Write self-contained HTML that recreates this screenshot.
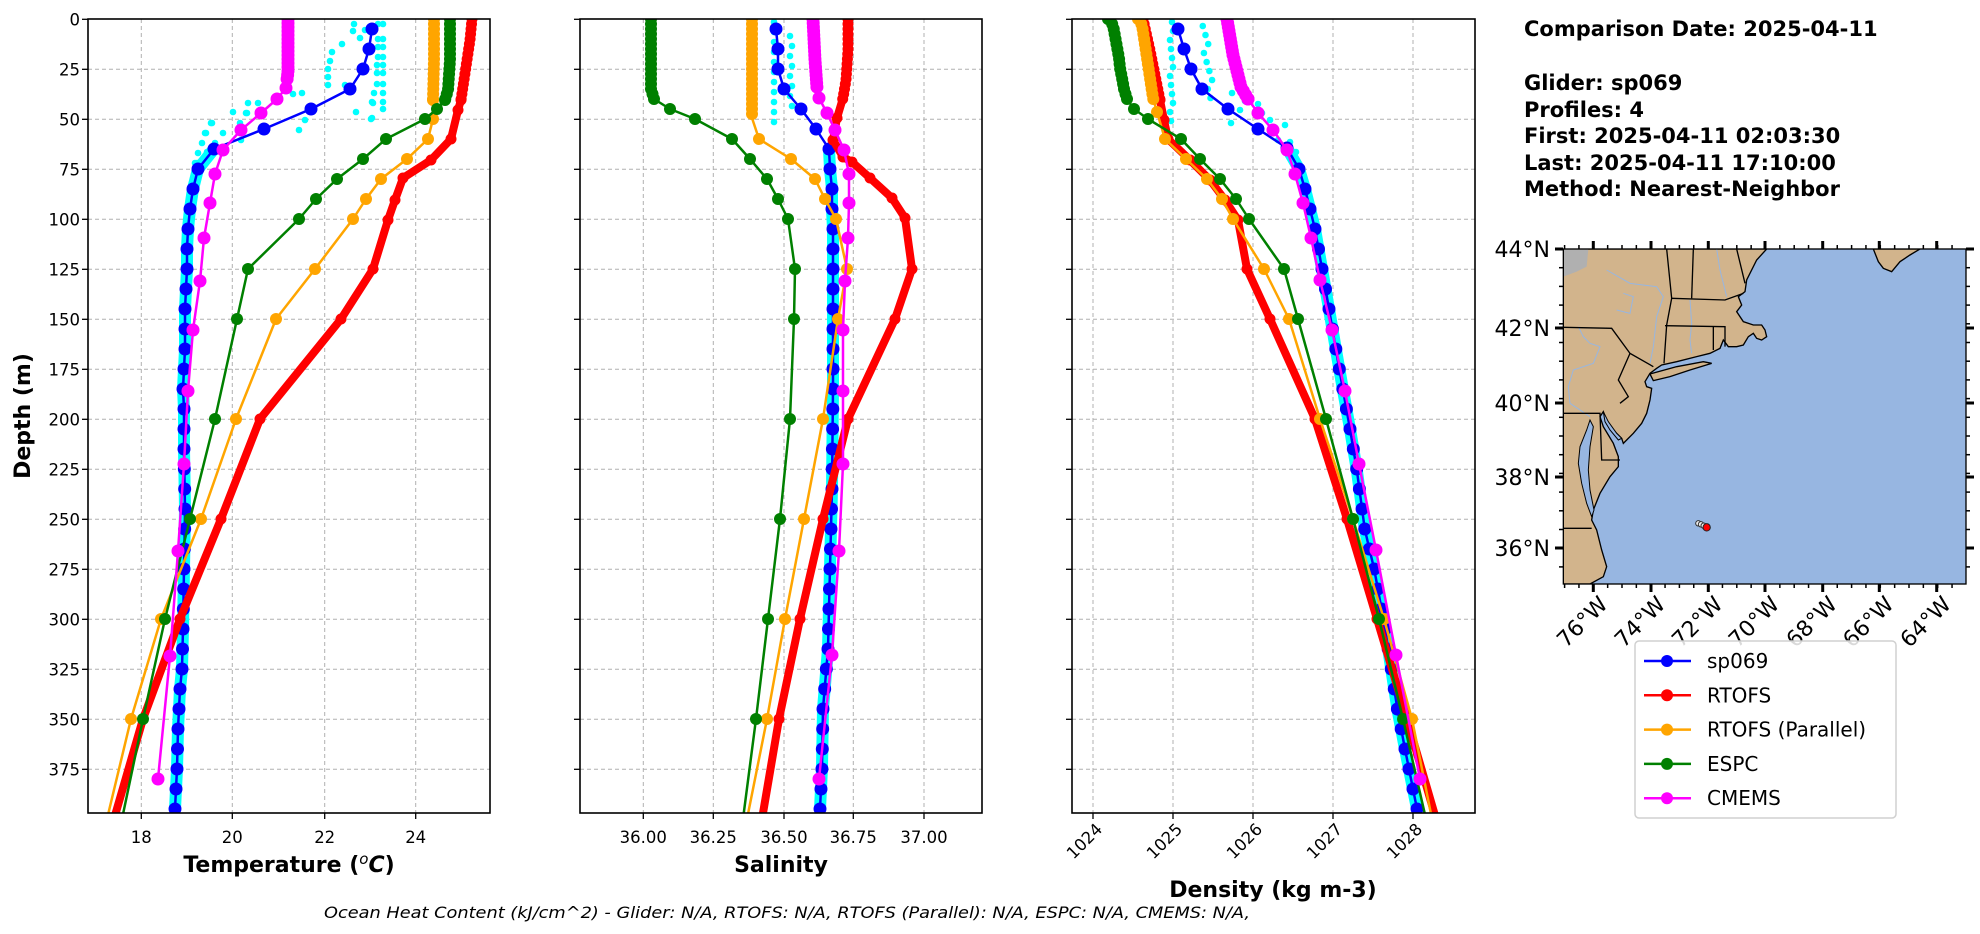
<!DOCTYPE html>
<html><head><meta charset="utf-8"><style>
html,body{margin:0;padding:0;background:#fff;}
svg{display:block;font-family:"DejaVu Sans","Liberation Sans",sans-serif;}
</style></head><body>
<svg id="s" xmlns="http://www.w3.org/2000/svg" width="1980" height="934" viewBox="0 0 1980 934">
<defs>
<clipPath id="c1"><rect x="88" y="19" width="402" height="794"/></clipPath>
<clipPath id="c2"><rect x="580" y="19" width="402" height="794"/></clipPath>
<clipPath id="c3"><rect x="1072" y="19" width="403" height="794"/></clipPath>
<clipPath id="cm"><rect x="220" y="57" width="1208" height="1005"/></clipPath>
</defs>
<g id="g"></g>
<g transform="translate(1490,230) scale(0.33333)">
<g clip-path="url(#cm)">
<rect x="220" y="57" width="1208" height="1005" fill="#97b6e1"/>
<path d="M220,57 L830,57 L800,90 L770,150 L765,185 L745,200 L755,225 L740,245 L760,275 L790,285 L815,285 L825,300 L830,320 L815,330 L800,325 L790,310 L775,320 L760,345 L740,350 L715,350 L700,330 L690,355 L660,370 L620,380 L560,395 L515,405 L500,415 L480,430 L465,455 L470,470 L485,475 L480,510 L470,550 L455,580 L430,610 L410,630 L400,640 L395,625 L375,605 L355,580 L345,560 L340,545 L330,560 L340,590 L370,640 L385,680 L385,710 L360,740 L330,790 L310,840 L305,870 L320,900 L335,960 L350,1010 L340,1040 L300,1062 L220,1062 Z" fill="#d2b48c" stroke="#000" stroke-width="4"/>
<path d="M480,432 L560,410 L640,395 L665,400 L600,420 L540,440 L490,452 Z" fill="#d2b48c" stroke="#000" stroke-width="4"/>
<path d="M300,570 L290,600 L270,650 L265,700 L275,760 L290,820 L305,860 L312,840 L300,780 L295,720 L300,650 L310,590 Z" fill="#97b6e1" stroke="#000" stroke-width="3"/>
<path d="M340,545 L355,575 L380,610 L395,625 L385,630 L360,600 L345,575 Z" fill="#97b6e1" stroke="#000" stroke-width="3"/>
<path d="M1150,57 L1290,57 L1260,75 L1230,95 L1205,125 L1180,115 L1165,95 Z" fill="#d2b48c" stroke="#000" stroke-width="4"/>
<path d="M220,57 L295,57 L290,110 L260,125 L220,140 Z" fill="#b0b0b0"/>
<g fill="none" stroke="#97b6e1" stroke-width="3">
<polyline points="350,120 420,160 500,170 520,200 500,260 490,350 480,400"/>
<polyline points="600,210 605,280 600,330 605,370"/>
<polyline points="680,57 690,120 710,200"/>
<polyline points="265,290 280,320 300,340 330,350 310,400 250,420 235,470 240,520 300,560"/>
<polyline points="380,240 420,250 430,200 400,190"/>
</g>
<g fill="none" stroke="#000" stroke-width="4">
<polyline points="530,57 545,205 530,285 522,400"/>
<polyline points="545,205 705,210 760,190"/>
<polyline points="525,287 705,290 705,350"/>
<polyline points="670,290 670,360"/>
<polyline points="220,292 365,295 420,370 490,410"/>
<polyline points="420,370 385,450 415,500 390,520"/>
<polyline points="220,550 330,550 335,690 390,690"/>
<polyline points="220,895 305,895"/>
<polyline points="610,57 605,205"/>
<polyline points="740,57 765,160"/>
</g>
<circle cx="625" cy="880" r="8" fill="#eee" stroke="#333" stroke-width="3"/>
<circle cx="633" cy="883" r="8" fill="#eee" stroke="#333" stroke-width="3"/>
<circle cx="641" cy="887" r="8" fill="#eee" stroke="#333" stroke-width="3"/>
<circle cx="650" cy="892" r="11" fill="#ff0000" stroke="#222" stroke-width="3"/>
</g>
<rect x="220" y="57" width="1208" height="1005" fill="none" stroke="#000" stroke-width="4"/>
</g>
<g id="g2"></g>
</svg>
<script>
var out=[];
function P(a){return a.map(function(p){return p[0]+','+p[1]}).join(' ');}
function line(a,c,w,clip){out.push('<polyline clip-path="url(#'+clip+')" points="'+P(a)+'" fill="none" stroke="'+c+'" stroke-width="'+w+'" stroke-linejoin="round" stroke-linecap="round"/>');}
function dots(a,c,r,clip){var s='<g clip-path="url(#'+clip+')" fill="'+c+'">';a.forEach(function(p){s+='<circle cx="'+p[0]+'" cy="'+p[1]+'" r="'+r+'"/>';});out.push(s+'</g>');}
function ix(a,y){for(var i=0;i<a.length-1;i++){if(y>=a[i][1]&&y<=a[i+1][1]){var t=(y-a[i][1])/((a[i+1][1]-a[i][1])||1);return a[i][0]+t*(a[i+1][0]-a[i][0]);}}return a[a.length-1][0];}
function dense(a,y0,y1,st){var r=[];for(var y=y0;y<=y1;y+=st)r.push([ix(a,y),y]);return r;}
function model(a,c,w,r,clip,ymax){line(a,c,w,clip);var m=dense(a,19,ymax||99,5).concat(a.filter(function(p){return p[1]>(ymax||99)}));dots(m,c,r,clip);}
function blue(top,anch,clip){var pts=top.slice();var last=top[top.length-1][1];var a=[top[top.length-1]].concat(anch);for(var y=last+20;y<=815;y+=20)pts.push([ix(a,y),y]);
 var band=pts.filter(function(p){return p[1]>=130});line(band,'#00ffff',12,clip);line(pts,'#0000ff',2.5,clip);dots(pts,'#0000ff',6.5,clip);}
function grid(x0,x1,xs){var s='<g stroke="#b0b0b0" stroke-width="1" stroke-dasharray="4,3">';xs.forEach(function(x){s+='<line x1="'+x+'" y1="19" x2="'+x+'" y2="813"/>';});for(var k=1;k<16;k++){var y=19.3+50*k;s+='<line x1="'+x0+'" y1="'+y+'" x2="'+x1+'" y2="'+y+'"/>';}out.push(s+'</g>');}
grid(88,490,[141.3,232.3,324.7,415.7]);grid(580,982,[643.3,713.3,784,853.3,924]);grid(1072,1475,[1093,1173,1253,1333,1413]);
var cT=[[354,24],[353,31],[342,44],[332,52],[330,61],[328,69],[328,77],[328,85],[345,85],[356,112],[378,24],[383,24],[378,39],[383,39],[378,47],[383,47],[378,57],[383,57],[377,65],[383,65],[377,73],[383,73],[377,84],[383,84],[374,93],[383,93],[372,102],[383,102],[372,118],[302,93],[293,94],[305,120],[299,130],[258,103],[248,103],[247,113],[233,112],[240,123],[241,140],[223,133],[212,123],[206,133],[202,143],[215,143],[198,153],[207,152],[197,163],[246,113],[211,123],[205,133],[195,163],[373,103],[383,109],[371,119],[365,30],[360,38]];
dots(cT,'#00ffff',3.3,'c1');
var cS=[];for(var y=22;y<=122;y+=10){cS.push([772+(y%5),y]);if(y>30&&y<110)cS.push([790+(y%4),y+4]);}
dots(cS,'#00ffff',3.3,'c2');
var cD=[];for(var y=22;y<=122;y+=9){cD.push([1170+(y%4),y]);if(y<100)cD.push([1200+(y%7)+y*0.08,y+4]);}
[[1232,93],[1245,101],[1258,104],[1262,113],[1270,120],[1285,125],[1278,140],[1290,142],[1296,152],[1240,110],[1231,123]].forEach(function(p){cD.push(p)});
dots(cD,'#00ffff',3.3,'c3');
blue([[372,29],[369,49],[363,69],[350,89],[311,109],[264,129],[214,149],[198,169],[193,189],[190,209],[188,229],[187,249],[187,269],[186,289],[185,309],[185,329],[185,349],[184,369],[183,389],[184,409],[184,429],[184,449]],[[185,509],[184,569],[183,629],[182,669],[180,689],[179,709],[178,729],[177,769],[175,809]],'c1');
model([[472,19],[470,40],[467,60],[464,80],[461,100],[458,110],[451,139],[431,160],[403,178],[395,200],[388,220],[373,269],[341,319],[260,419],[221,519],[180,619],[143,719],[114,819]],'#ff0000',8,5.5,'c1');
model([[434,19],[434,60],[433,100],[433,119],[428,139],[407,159],[381,179],[366,199],[353,219],[315,269],[276,319],[236,419],[201,519],[161,619],[131,719],[107,819]],'#ffa500',2.5,6,'c1');
model([[450,19],[450,60],[448,90],[445,100],[437,109],[425,119],[386,139],[363,159],[337,179],[316,199],[299,219],[248,269],[237,319],[215,419],[190,519],[165,619],[143,719],[122,819]],'#008000',2.5,6,'c1');
(function(){var a=[[288,19],[288,72],[286,88],[277,99],[261,113],[241,130],[223,150],[215,174],[210,203],[204,238],[200,281],[193,330],[188,391],[184,464],[178,551],[170,656],[158,779]];line(a,'#ff00ff',2.5,'c1');dots(dense(a,19,80,4).concat(a.slice(2)),'#ff00ff',6.5,'c1');})();
blue([[776,29],[778,49],[778,69],[784,89],[801,109],[816,129],[829,149],[830,169],[832,189],[832,209],[833,229],[833,249],[833,269]],[[833,289],[833,389],[832,489],[830,568],[828,649],[823,709],[822,768],[820,809]],'c2');
model([[848,19],[848,50],[846,80],[843,98],[837,118],[833,140],[843,157],[852,162],[870,178],[892,198],[905,218],[912,269],[895,319],[848,419],[823,519],[800,619],[779,719],[762,819]],'#ff0000',8,5.5,'c2');
model([[752,19],[752,118],[759,139],[791,159],[815,179],[825,199],[836,219],[847,269],[838,319],[823,419],[804,519],[785,619],[767,719],[747,819]],'#ffa500',2.5,6,'c2',118);
model([[651,19],[651,89],[654,99],[670,109],[695,119],[732,139],[750,159],[767,179],[778,199],[788,219],[795,269],[794,319],[790,419],[780,519],[768,619],[756,719],[743,819]],'#008000',2.5,6,'c2');
(function(){var a=[[813,19],[815,60],[817,88],[819,98],[827,113],[835,130],[844,150],[849,174],[849,203],[848,238],[845,281],[843,330],[843,391],[843,464],[839,551],[832,655],[819,779]];line(a,'#ff00ff',2.5,'c2');dots(dense(a,19,90,4).concat(a.slice(3)),'#ff00ff',6.5,'c2');})();
blue([[1178,29],[1184,49],[1191,69],[1202,89],[1228,109],[1258,129],[1287,148],[1299,169],[1305,189],[1310,209],[1315,229]],[[1322,269],[1329,309],[1336,350],[1343,390],[1350,429],[1357,471],[1365,531],[1374,568],[1385,628],[1397,707],[1405,749],[1417,809]],'c3');
model([[1143,19],[1150,50],[1156,80],[1160,100],[1164,120],[1168,139],[1190,160],[1210,180],[1225,200],[1238,220],[1247,269],[1270,319],[1315,419],[1347,519],[1377,619],[1407,719],[1436,819]],'#ff0000',8,5.5,'c3');
model([[1138,19],[1142,25],[1147,58],[1150,78],[1153,98],[1157,112],[1165,139],[1186,159],[1207,179],[1222,199],[1233,219],[1264,269],[1289,319],[1320,419],[1353,519],[1384,619],[1412,719],[1432,819]],'#ffa500',2.5,6,'c3');
model([[1108,19],[1113,25],[1119,58],[1120,68],[1122,78],[1124,89],[1127,99],[1134,109],[1148,119],[1181,139],[1200,159],[1220,179],[1236,199],[1249,219],[1284,269],[1298,319],[1326,419],[1353,519],[1379,619],[1403,719],[1426,819]],'#008000',2.5,6,'c3');
(function(){var a=[[1227,19],[1233,55],[1241,87],[1248,99],[1258,113],[1273,130],[1287,150],[1295,174],[1303,203],[1311,238],[1320,280],[1332,330],[1345,391],[1359,464],[1376,550],[1396,655],[1420,779]];line(a,'#ff00ff',2.5,'c3');dots(dense(a,19,99,4).concat(a.slice(3)),'#ff00ff',6.5,'c3');})();
var T='';
[[88,402],[580,402],[1072,403]].forEach(function(f){T+='<rect x="'+f[0]+'" y="19" width="'+f[1]+'" height="794" fill="none" stroke="#000" stroke-width="1.6"/>';
 for(var k=0;k<16;k++){var y=19.3+50*k;T+='<line x1="'+(f[0]-6)+'" y1="'+y+'" x2="'+f[0]+'" y2="'+y+'" stroke="#000" stroke-width="1.3"/>';}});
for(var k=0;k<16;k++){T+='<text x="80" y="'+(19.3+50*k+6)+'" font-size="16.5" text-anchor="end">'+(25*k)+'</text>';}
[[141.3,'18'],[232.3,'20'],[324.7,'22'],[415.7,'24']].forEach(function(t){T+='<line x1="'+t[0]+'" y1="813" x2="'+t[0]+'" y2="819" stroke="#000" stroke-width="1.3"/><text x="'+t[0]+'" y="843" font-size="16.5" text-anchor="middle">'+t[1]+'</text>';});
[[643.3,'36.00'],[713.3,'36.25'],[784,'36.50'],[853.3,'36.75'],[924,'37.00']].forEach(function(t){T+='<line x1="'+t[0]+'" y1="813" x2="'+t[0]+'" y2="819" stroke="#000" stroke-width="1.3"/><text x="'+t[0]+'" y="843" font-size="16.5" text-anchor="middle">'+t[1]+'</text>';});
[[1093,'1024'],[1173,'1025'],[1253,'1026'],[1333,'1027'],[1413,'1028']].forEach(function(t){T+='<line x1="'+t[0]+'" y1="813" x2="'+t[0]+'" y2="819" stroke="#000" stroke-width="1.3"/><text transform="translate('+(t[0]+6)+',826) rotate(-45)" font-size="16.5" text-anchor="end" dy="6">'+t[1]+'</text>';});
T+='<text x="289" y="872" font-size="22" font-weight="bold" text-anchor="middle">Temperature (<tspan font-size="15" dy="-8" font-style="italic" font-weight="normal">o</tspan><tspan dy="8" font-style="italic">C</tspan>)</text>';
T+='<text x="781" y="872" font-size="22" font-weight="bold" text-anchor="middle">Salinity</text>';
T+='<text x="1273" y="897" font-size="22" font-weight="bold" text-anchor="middle">Density (kg m-3)</text>';
T+='<text transform="translate(30,416) rotate(-90)" font-size="22" font-weight="bold" text-anchor="middle">Depth (m)</text>';
T+='<text x="787" y="918" font-size="16" font-style="italic" text-anchor="middle" textLength="926" lengthAdjust="spacingAndGlyphs">Ocean Heat Content (kJ/cm^2) - Glider: N/A,  RTOFS: N/A,  RTOFS (Parallel): N/A,  ESPC: N/A,  CMEMS: N/A,</text>';
[['Comparison Date: 2025-04-11',36],['Glider: sp069',90],['Profiles: 4',117],['First: 2025-04-11 02:03:30',143],['Last: 2025-04-11 17:10:00',170],['Method: Nearest-Neighbor',196]].forEach(function(t){T+='<text x="1524" y="'+t[1]+'" font-size="21" font-weight="bold">'+t[0]+'</text>';});
[[249,'44°N'],[328,'42°N'],[403,'40°N'],[477,'38°N'],[548,'36°N']].forEach(function(t){T+='<text x="1550" y="'+(t[0]+8)+'" font-size="22" text-anchor="end">'+t[1]+'</text><line x1="1555" y1="'+t[0]+'" x2="1563" y2="'+t[0]+'" stroke="#000" stroke-width="3"/><line x1="1966" y1="'+t[0]+'" x2="1974" y2="'+t[0]+'" stroke="#000" stroke-width="3"/>';});
for(var la=35.5;la<44;la+=0.5){var y=249+(44-la)*37.4;T+='<line x1="1559" y1="'+y+'" x2="1563" y2="'+y+'" stroke="#000" stroke-width="1.5"/><line x1="1966" y1="'+y+'" x2="1970" y2="'+y+'" stroke="#000" stroke-width="1.5"/>';}
[[1593.3,'76°W'],[1651,'74°W'],[1708.3,'72°W'],[1765,'70°W'],[1822.7,'68°W'],[1879.3,'66°W'],[1936.7,'64°W']].forEach(function(t){T+='<line x1="'+t[0]+'" y1="584" x2="'+t[0]+'" y2="592" stroke="#000" stroke-width="3"/><line x1="'+t[0]+'" y1="241" x2="'+t[0]+'" y2="249" stroke="#000" stroke-width="3"/><text transform="translate('+(t[0]+10)+',600) rotate(-45)" font-size="22" text-anchor="end" dy="8">'+t[1]+'</text>';});
for(var lo=-77;lo<=-63;lo+=0.5){var x=1593.3+(lo+76)*28.7;if(x<1563||x>1966)continue;T+='<line x1="'+x+'" y1="584" x2="'+x+'" y2="588" stroke="#000" stroke-width="1.5"/><line x1="'+x+'" y1="245" x2="'+x+'" y2="249" stroke="#000" stroke-width="1.5"/>';}
T+='<rect x="1635" y="641" width="261" height="177" rx="4" fill="#fff" fill-opacity="0.85" stroke="#d0d0d0" stroke-width="1.5"/>';
[['sp069','#0000ff'],['RTOFS','#ff0000'],['RTOFS (Parallel)','#ffa500'],['ESPC','#008000'],['CMEMS','#ff00ff']].forEach(function(l,i){var y=661+34.3*i;T+='<line x1="1644" y1="'+y+'" x2="1691" y2="'+y+'" stroke="'+l[1]+'" stroke-width="2.5"/><circle cx="1667" cy="'+y+'" r="6" fill="'+l[1]+'"/><text x="1707" y="'+(y+7)+'" font-size="20">'+l[0]+'</text>';});
document.getElementById('g').innerHTML=out.join('');
document.getElementById('g2').innerHTML=T;
</script>
</body></html>
